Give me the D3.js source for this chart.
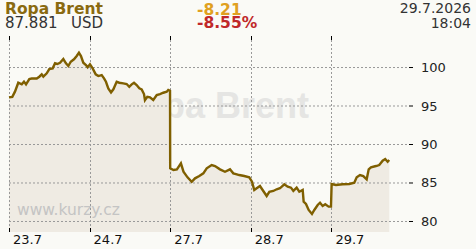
<!DOCTYPE html>
<html><head><meta charset="utf-8">
<script src="https://cdn.jsdelivr.net/npm/d3@7/dist/d3.min.js"></script>
<style>
html,body{margin:0;padding:0;background:#fafaf6;}
svg{display:block;}
</style></head>
<body>
<script>
// ---- data ----
const dayLabels = ["23.7","24.7","27.7","28.7","29.7"];
const yTicks = [80,85,90,95,100];
// t = position in trading days from the start of 23.7
const t = [0,0.041,0.074,0.115,0.158,0.186,0.211,0.252,0.282,0.344,0.376,0.406,0.426,0.468,0.5,0.542,0.571,0.599,0.633,0.674,0.707,0.736,0.766,0.806,0.84,0.868,0.893,0.922,0.955,0.976,
1.005,1.038,1.076,1.108,1.15,1.179,1.203,1.232,1.266,1.295,1.336,1.368,1.418,1.46,1.492,1.522,1.551,1.584,1.617,1.646,1.675,1.687,1.716,1.749,1.79,1.833,1.873,1.914,1.957,1.976,1.998,
2.0,2.041,2.083,2.133,2.165,2.215,2.267,2.308,2.361,2.411,2.453,2.515,2.556,2.618,2.68,2.742,2.783,2.816,2.857,2.919,2.981,
3.015,3.043,3.073,3.114,3.147,3.197,3.23,3.279,3.321,3.362,3.416,3.458,3.499,3.528,3.569,3.602,3.644,3.656,3.685,3.718,3.759,3.788,3.83,3.859,3.892,3.924,3.966,3.995,
4.003,4.057,4.14,4.222,4.284,4.314,4.355,4.396,4.438,4.463,4.491,4.553,4.594,4.636,4.668,4.698,4.718];
const price = [96.06,96.13,96.8,97.96,97.75,98.1,97.75,98.44,98.5,98.5,98.74,99.05,98.74,99.18,99.74,99.83,100.48,100.39,100.56,101.04,100.48,100.13,100.69,101.0,101.43,101.86,101.43,100.56,100.26,99.96,
100.35,99.83,99.05,98.83,98.96,98.53,98.09,97.23,96.71,97.1,98.09,97.96,97.88,97.79,97.44,97.75,97.96,97.66,97.23,97.1,96.49,95.71,96.14,96.06,95.71,96.36,96.49,96.66,96.79,97.01,96.92,
86.84,86.62,86.71,87.49,86.4,85.67,85.1,85.54,85.84,86.19,86.84,87.27,87.14,86.71,86.4,86.71,86.19,86.1,85.97,85.84,85.67,
85.1,84.03,84.25,84.55,84.03,83.25,83.8,83.9,84.12,84.25,84.77,84.46,84.33,83.9,84.33,83.8,84.03,82.51,82.21,81.43,80.91,81.43,82.08,82.38,81.95,82.17,81.86,81.86,
84.81,84.68,84.77,84.81,84.98,85.67,85.97,85.84,85.41,86.71,86.97,87.14,87.27,87.83,88.05,87.7,87.92];
const title = "Ropa Brent", lastPrice = "87.881", currency = "USD";
const change = "-8.21", changePct = "-8.55%", dateStr = "29.7.2026", timeStr = "18:04";

// ---- layout ----
const W = 476, H = 249;
const mLeft = 9, mRight = 409, mTop = 38, mBottom = 232;
const svg = d3.select("body").append("svg").attr("width", W).attr("height", H);
svg.append("rect").attr("width", W).attr("height", H).attr("fill", "#fafaf6");

const x = d3.scaleLinear().domain([0, 4.963]).range([mLeft, mRight]);
const y = d3.scaleLinear().domain([78.57, 103.77]).range([mBottom, mTop]);
const data = t.map((d, i) => ({t: d, v: price[i]}));

// watermark
svg.append("text").attr("x", 115).attr("y", 118).text(title)
  .attr("font-family", "Liberation Sans, Arial, sans-serif").attr("font-weight", "bold")
  .attr("font-size", 36).attr("fill", "#e5e5e3");

// area
svg.append("path").datum(data)
  .attr("d", d3.area().x(d => x(d.t)).y0(mBottom).y1(d => y(d.v)))
  .attr("fill", "#efebe3");

// watermark url
svg.append("text").attr("x", 17).attr("y", 215).text("www.kurzy.cz")
  .attr("font-family", "DejaVu Sans, sans-serif").attr("font-size", 15.5).attr("fill", "#c4c4c4");

// grid horizontal
const g = svg.append("g");
yTicks.forEach(v => {
  g.append("line").attr("x1", mLeft).attr("x2", mRight - 2).attr("y1", y(v) + 0.5).attr("y2", y(v) + 0.5)
    .attr("stroke", "#999").attr("stroke-dasharray", "2,2");
  g.append("line").attr("x1", mRight).attr("x2", mRight + 4).attr("y1", y(v) + 0.5).attr("y2", y(v) + 0.5)
    .attr("stroke", "#000");
  g.append("text").attr("x", mRight + 12).attr("y", y(v) + 5).text(v)
    .attr("font-family", "DejaVu Sans, sans-serif").attr("font-size", 13).attr("fill", "#222");
});
// grid vertical
dayLabels.forEach((lab, i) => {
  const px = Math.round(x(i)) + 0.5;
  g.append("line").attr("x1", px).attr("x2", px).attr("y1", mTop + 2).attr("y2", mBottom - 4)
    .attr("stroke", "#999").attr("stroke-dasharray", "2,2");
  g.append("line").attr("x1", px).attr("x2", px).attr("y1", mTop - 2).attr("y2", mTop + 2).attr("stroke", "#000");
  g.append("line").attr("x1", px).attr("x2", px).attr("y1", mBottom - 4).attr("y2", mBottom).attr("stroke", "#000");
  g.append("text").attr("x", x(i) + 4).attr("y", 243.5).text(lab)
    .attr("font-family", "DejaVu Sans, sans-serif").attr("font-size", 13).attr("fill", "#111");
});

// line
svg.append("path").datum(data)
  .attr("d", d3.line().x(d => x(d.t)).y(d => y(d.v)))
  .attr("fill", "none").attr("stroke", "#7f5f00").attr("stroke-width", 2.4).attr("stroke-linejoin", "miter");

// header
const f = "DejaVu Sans, sans-serif";
svg.append("text").attr("x", 5).attr("y", 14).text(title)
  .attr("font-family", f).attr("font-weight", "bold").attr("font-size", 15.5).attr("fill", "#8a6a10");
svg.append("text").attr("x", 5).attr("y", 28).text(lastPrice)
  .attr("font-family", f).attr("font-size", 15).attr("fill", "#333");
svg.append("text").attr("x", 71).attr("y", 28).text(currency)
  .attr("font-family", f).attr("font-size", 15).attr("fill", "#333");
svg.append("text").attr("x", 197).attr("y", 15).text(change)
  .attr("font-family", f).attr("font-weight", "bold").attr("font-size", 15.5).attr("fill", "#e0a020");
svg.append("text").attr("x", 197).attr("y", 28).text(changePct)
  .attr("font-family", f).attr("font-weight", "bold").attr("font-size", 15.5).attr("fill", "#c0282a");
svg.append("text").attr("x", 471).attr("y", 13).attr("text-anchor", "end").text(dateStr)
  .attr("font-family", f).attr("font-size", 14).attr("fill", "#333");
svg.append("text").attr("x", 471).attr("y", 28).attr("text-anchor", "end").text(timeStr)
  .attr("font-family", f).attr("font-size", 14).attr("fill", "#333");
</script>
</body></html>
